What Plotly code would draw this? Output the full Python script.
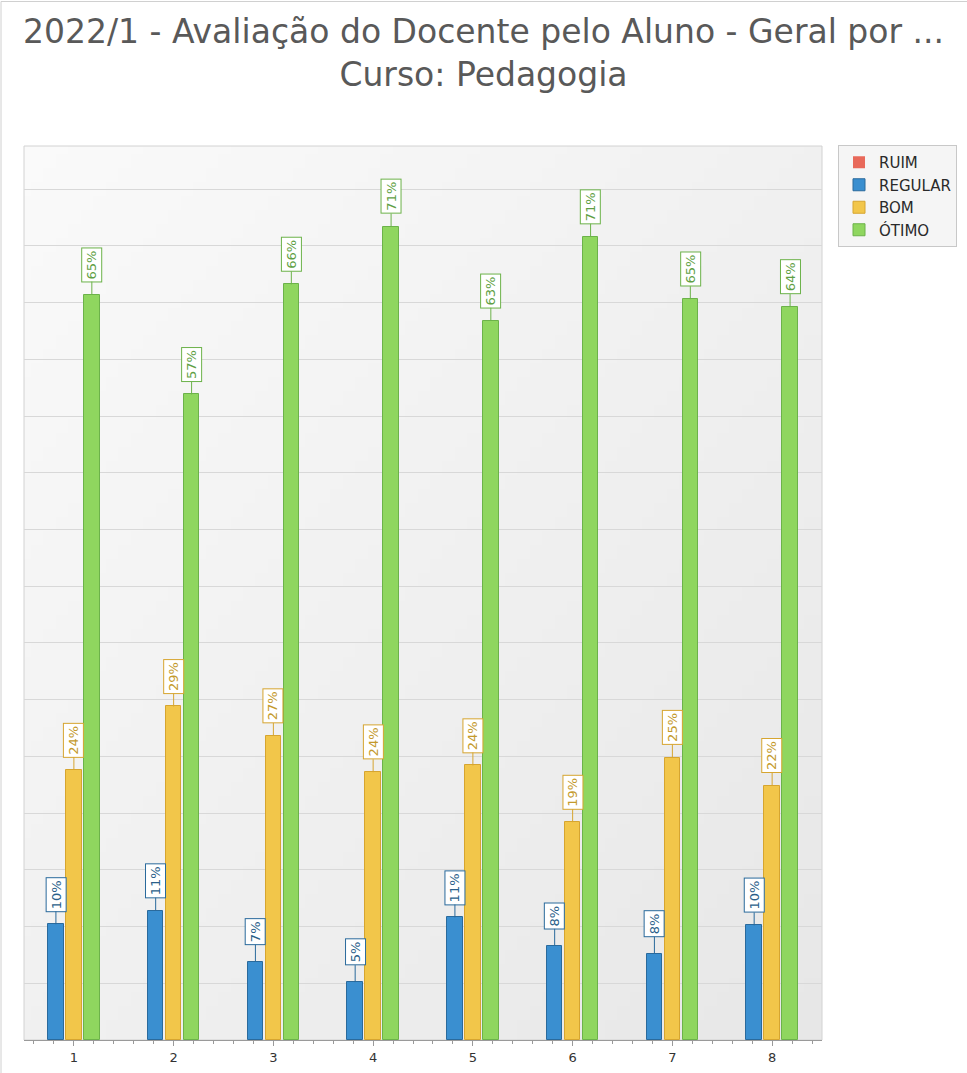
import base64
import struct
import zlib
import plotly.graph_objects as go

# ---- data ----
groups = [1, 2, 3, 4, 5, 6, 7, 8]
group_labels = ["1", "2", "3", "4", "5", "6", "7", "8"]
series_names = ["RUIM", "REGULAR", "BOM", "ÓTIMO"]

ruim = [0, 0, 0, 0, 0, 0, 0, 0]
regular = [10.2, 11.4, 6.9, 5.1, 10.8, 8.3, 7.6, 10.1]
bom = [23.8, 29.4, 26.8, 23.6, 24.2, 19.2, 24.9, 22.4]
otimo = [65.7, 56.9, 66.6, 71.7, 63.4, 70.8, 65.3, 64.6]

regular_labels = ["10%", "11%", "7%", "5%", "11%", "8%", "8%", "10%"]
bom_labels = ["24%", "29%", "27%", "24%", "24%", "19%", "25%", "22%"]
otimo_labels = ["65%", "57%", "66%", "71%", "63%", "71%", "65%", "64%"]

# ---- styles ----
FONT = "DejaVu Sans"
W = 967
H = 1073
ML, MR, MT, MB = 24, 145, 146, 33
bar_w = 0.155
styles = {
    "RUIM": dict(fill="#e8695a", edge="#c9503f", text="#c9503f", center=-0.36),
    "REGULAR": dict(fill="#3a8fd0", edge="#2a6a9c", text="#2a5f8a", center=-0.18),
    "BOM": dict(fill="#f2c64a", edge="#d6a530", text="#c49a2c", center=0.0),
    "ÓTIMO": dict(fill="#8fd65f", edge="#6cb24a", text="#5f9f45", center=0.18),
}
values = {"RUIM": ruim, "REGULAR": regular, "BOM": bom, "ÓTIMO": otimo}
labels = {"REGULAR": regular_labels, "BOM": bom_labels, "ÓTIMO": otimo_labels}


def gradient_png(n=64, c0=250, c1=231):
    rows = b""
    for yy in range(n):
        row = b"\x00"
        for xx in range(n):
            t = (xx / (n - 1) + yy / (n - 1)) / 2
            v = int(round(c0 + (c1 - c0) * t))
            row += bytes([v, v, v])
        rows += row

    def chunk(tag, data):
        c = struct.pack(">I", len(data)) + tag + data
        return c + struct.pack(">I", zlib.crc32(tag + data) & 0xFFFFFFFF)

    png = b"\x89PNG\r\n\x1a\n"
    png += chunk(b"IHDR", struct.pack(">IIBBBBB", n, n, 8, 2, 0, 0, 0))
    png += chunk(b"IDAT", zlib.compress(rows, 9))
    png += chunk(b"IEND", b"")
    return "data:image/png;base64," + base64.b64encode(png).decode()


fig = go.Figure()
annotations = []
for name in series_names:
    st = styles[name]
    lw = 0 if name == "RUIM" else 1
    fig.add_trace(go.Bar(
        name=name,
        x=groups,
        y=values[name],
        width=bar_w,
        offset=st["center"] - bar_w / 2,
        marker=dict(color=st["fill"], line=dict(color=st["edge"], width=lw)),
        hoverinfo="skip",
    ))
    if name in labels:
        for g, v, t in zip(groups, values[name], labels[name]):
            annotations.append(dict(
                x=g + st["center"], y=v, xref="x", yref="y",
                text=t, textangle=-90,
                showarrow=True, arrowhead=0, arrowwidth=1, arrowcolor=st["edge"],
                ax=0, ay=-30, standoff=0, startstandoff=0,
                bordercolor=st["edge"], borderwidth=1, borderpad=2,
                bgcolor="white",
                font=dict(family=FONT, size=13, color=st["text"]),
            ))

plot_w = W - ML - MR
plot_h = H - MT - MB
shapes = [
    dict(type="rect", xref="paper", yref="paper", x0=0, x1=1, y0=0, y1=1,
         line=dict(color="#d2d2d2", width=1), fillcolor="rgba(0,0,0,0)", layer="below"),
    dict(type="rect", xref="paper", yref="paper",
         x0=(1 - ML) / plot_w, x1=(W + 20 - ML) / plot_w,
         y0=-(MB + 20) / plot_h, y1=1 + (MT - 1.5) / plot_h,
         line=dict(color="#d0d0d0", width=1), fillcolor="rgba(0,0,0,0)", layer="below"),
]

fig.update_layout(
    width=W, height=H,
    margin=dict(l=ML, r=MR, t=MT, b=MB, pad=0, autoexpand=False),
    paper_bgcolor="white",
    plot_bgcolor="#efefef",
    images=[dict(source=gradient_png(), xref="paper", yref="paper", x=0, y=1,
                 sizex=1, sizey=1, sizing="stretch", xanchor="left", yanchor="top",
                 layer="below")],
    title=dict(
        text="2022/1 - Avaliação do Docente pelo Aluno - Geral por ...<br>Curso: Pedagogia",
        x=0.5, xanchor="center", xref="container",
        y=1 - 43 / H, yanchor="top", yref="container",
        font=dict(family=FONT, size=33, color="#595959"),
        automargin=False,
    ),
    showlegend=True,
    legend=dict(
        x=(838 - ML) / plot_w, xanchor="left",
        y=1 + (MT - 145) / plot_h, yanchor="top",
        bgcolor="#f5f5f5", bordercolor="#c8c8c8", borderwidth=1,
        font=dict(family=FONT, size=15, color="#2a2a2a"),
        traceorder="normal", itemclick=False, itemwidth=30,
    ),
    xaxis=dict(
        range=[0.5, 8.5], tickmode="array", tickvals=groups, ticktext=group_labels,
        showgrid=False, zeroline=False, showline=True, linecolor="#9a9a9a", linewidth=1,
        ticks="outside", ticklen=5, tickcolor="#9a9a9a",
        tickfont=dict(family=FONT, size=13, color="#333333"),
        minor=dict(tickmode="linear", tick0=0, dtick=0.2, ticks="outside", ticklen=3,
                   tickcolor="#9a9a9a", showgrid=False),
        fixedrange=True, automargin=False,
    ),
    yaxis=dict(
        range=[0, 78.8], dtick=5, tick0=0, showticklabels=False, ticks="",
        showgrid=True, gridcolor="#d8d8d8", gridwidth=1, zeroline=False, showline=False,
        fixedrange=True, automargin=False,
    ),
    annotations=annotations,
    shapes=shapes,
    bargap=0, barmode="overlay",
)

fig.write_html("out.html", config={"displayModeBar": False},
               post_script="document.body.style.margin='0px';")
